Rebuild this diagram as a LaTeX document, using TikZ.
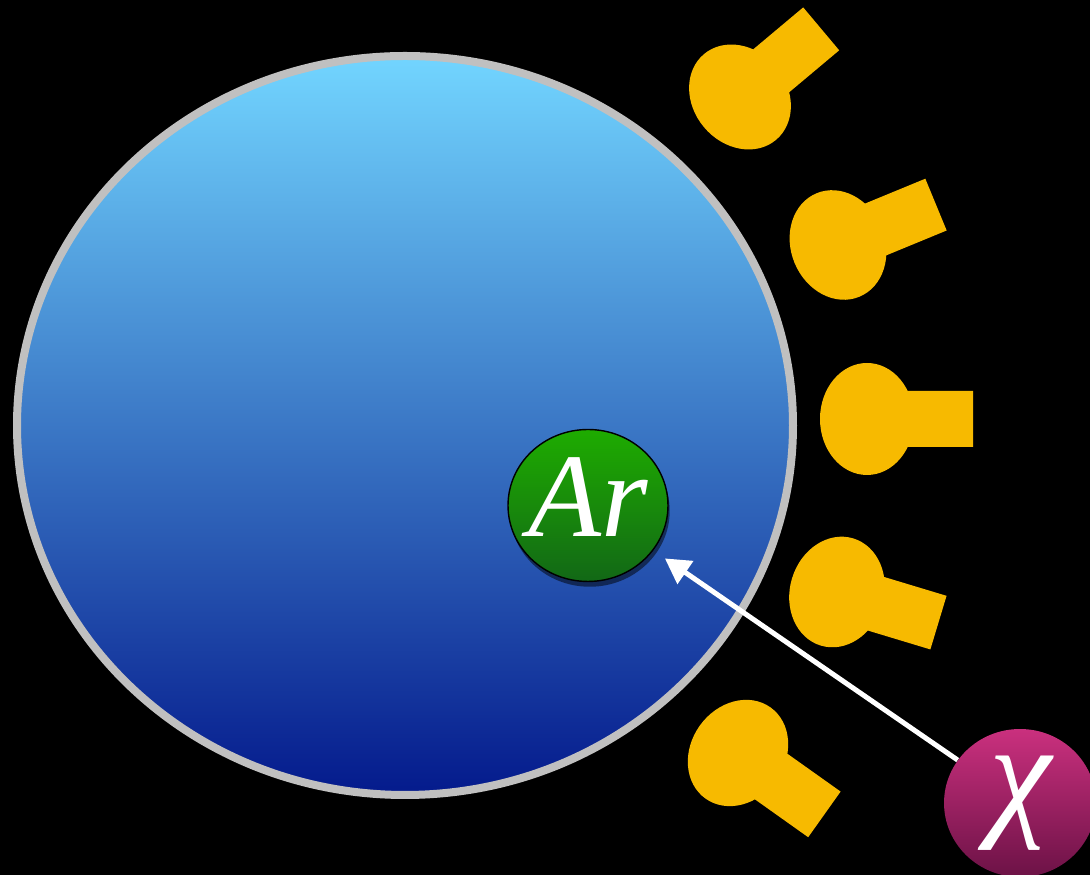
\documentclass[tikz,border=0pt]{standalone}
\usepackage{fontspec}
\newfontfamily\symbolfont{Liberation Serif}
\usetikzlibrary{shapes.geometric,shadows,arrows.meta}

\definecolor{pmtyellow}{RGB}{247,186,0}
\definecolor{lartop}{RGB}{114,213,255}
\definecolor{larbottom}{RGB}{4,26,140}
\definecolor{vessel}{RGB}{192,192,192}
\definecolor{argontop}{RGB}{30,172,0}
\definecolor{argonbottom}{RGB}{18,104,22}
\definecolor{wimptop}{RGB}{202,48,126}
\definecolor{wimpbottom}{RGB}{108,18,70}

\tikzset{
  pmt/.style={fill=pmtyellow},
  particle/.style={ellipse, text=white, inner sep=0pt},
}

\begin{document}
\begin{tikzpicture}[x=0.02cm, y=0.02cm]

% black background
\fill[black] (0,0) rectangle (1090,875);
\clip (0,0) rectangle (1090,875);

% liquid argon volume
\draw[draw=vessel, line width=0.16cm, top color=lartop, bottom color=larbottom] (405,449.5) ellipse (388 and 369.5);

% photomultipliers: head + neck, turned towards the volume
\fill[pmt, shift={(740,778)}, rotate=40] (0,0) ellipse (47 and 56) (0,28) rectangle (106,-28);
\fill[pmt, shift={(838,630)}, rotate=22.4] (0,0) ellipse (47 and 56) (0,28) rectangle (106,-28);
\fill[pmt, shift={(867,456)}, rotate=0] (0,0) ellipse (47 and 56) (0,28) rectangle (106,-28);
\fill[pmt, shift={(837,283)}, rotate=-16.8] (0,0) ellipse (47 and 56) (0,28) rectangle (106,-28);
\fill[pmt, shift={(738,122)}, rotate=-35.4] (0,0) ellipse (47 and 56) (0,28) rectangle (106,-28);

% recoiling nucleus (text sits a little above the middle)
\node[particle, draw=black, thick, minimum width=3.2cm, minimum height=3.04cm,
      top color=argontop, bottom color=argonbottom,
      drop shadow={shadow xshift=1pt, shadow yshift=-3pt, opacity=0.5, fill=black},
      font=\symbolfont\itshape\fontsize{68}{74}\selectfont] (ar) at (588,369.5) {\makebox[0pt]{\raisebox{-0.63cm}[0pt][0pt]{Ar}}};

% incoming dark matter particle
\node[particle, minimum width=3.04cm, minimum height=2.96cm,
      top color=wimptop, bottom color=wimpbottom,
      font=\symbolfont\itshape\fontsize{80}{90}\selectfont] (chi) at (1020,72) {χ};

\draw[-{Triangle[length=0.5cm, width=0.54cm]}, white, line width=0.1cm, shorten >=0.28cm] (chi) -- (ar);

\end{tikzpicture}
\end{document}
